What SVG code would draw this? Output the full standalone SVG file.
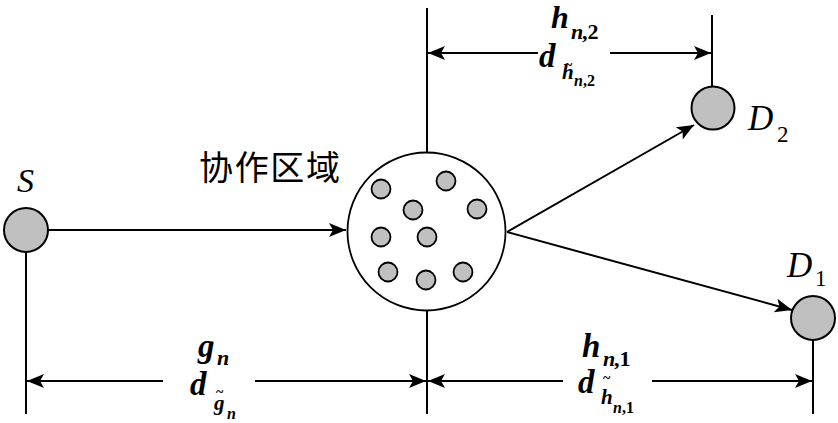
<svg xmlns="http://www.w3.org/2000/svg" width="838" height="423" viewBox="0 0 838 423">
<style>
.ln{stroke:#000;stroke-width:2;fill:none}
.node{fill:#c0c0c0;stroke:#000;stroke-width:2}
.big{fill:#fff;stroke:#000;stroke-width:1.8}
.dot{fill:#c0c0c0;stroke:#000;stroke-width:1.8}
</style>
<defs>
<marker id="ah" markerUnits="userSpaceOnUse" markerWidth="20" markerHeight="16" viewBox="-18 -8 20 16" refX="0" refY="0" orient="auto-start-reverse">
<path d="M0,0 L-17,-7 L-13,0 L-17,7 Z" fill="#000"/>
</marker>
</defs>
<rect width="838" height="423" fill="#fff"/>
<g id="connectors">
<line class="ln" x1="48" y1="230" x2="346" y2="230" marker-end="url(#ah)"/>
<line class="ln" x1="507" y1="232" x2="694" y2="125" marker-end="url(#ah)"/>
<line class="ln" x1="507" y1="232" x2="792" y2="310" marker-end="url(#ah)"/>
<line class="ln" x1="26" y1="252" x2="26" y2="414"/>
<line class="ln" x1="427" y1="8" x2="427" y2="153"/>
<line class="ln" x1="427" y1="310" x2="427" y2="414"/>
<line class="ln" x1="712" y1="15" x2="712" y2="87"/>
<line class="ln" x1="813" y1="340" x2="813" y2="414"/>
<line class="ln" x1="428" y1="53" x2="538" y2="53" marker-start="url(#ah)"/>
<line class="ln" x1="610" y1="53" x2="711" y2="53" marker-end="url(#ah)"/>
<line class="ln" x1="27" y1="381" x2="163" y2="381" marker-start="url(#ah)"/>
<line class="ln" x1="255" y1="381" x2="426" y2="381" marker-end="url(#ah)"/>
<line class="ln" x1="428" y1="381" x2="563" y2="381" marker-start="url(#ah)"/>
<line class="ln" x1="652" y1="381" x2="812" y2="381" marker-end="url(#ah)"/>
</g>
<g id="S" font-family="Liberation Serif, Times New Roman, serif">
<circle class="node" cx="26" cy="230" r="22"/>
<text x="17" y="192" font-size="34" font-style="italic">S</text>
</g>
<g id="region">
<circle class="big" cx="426.5" cy="231.5" r="79"/>
<circle class="dot" cx="381" cy="189" r="9.5"/>
<circle class="dot" cx="446" cy="181" r="9.5"/>
<circle class="dot" cx="413" cy="210" r="9.5"/>
<circle class="dot" cx="477" cy="209" r="9.5"/>
<circle class="dot" cx="381" cy="237" r="9.5"/>
<circle class="dot" cx="427" cy="237" r="9.5"/>
<circle class="dot" cx="388" cy="272" r="9.5"/>
<circle class="dot" cx="426" cy="280" r="9.5"/>
<circle class="dot" cx="463" cy="272" r="9.5"/>
<text font-family="Noto Sans CJK SC, sans-serif" font-size="34" x="199" y="180" textLength="141" lengthAdjust="spacing">协作区域</text>
</g>
<g id="D2" font-family="Liberation Serif, Times New Roman, serif">
<circle class="node" cx="713" cy="108" r="21.5"/>
<text x="748" y="130" font-size="35" font-style="italic">D</text>
<text x="777" y="142" font-size="23">2</text>
</g>
<g id="D1" font-family="Liberation Serif, Times New Roman, serif">
<circle class="node" cx="813" cy="318" r="22"/>
<text x="787" y="277" font-size="35" font-style="italic">D</text>
<text x="815" y="286" font-size="23">1</text>
</g>
<g id="labels" font-family="Liberation Serif, Times New Roman, serif" font-weight="bold">
<text font-style="italic" x="551" y="28" font-size="32">h</text>
<text font-style="italic" x="571" y="39" font-size="22">n</text>
<text x="582" y="39" font-size="22">,2</text>
<text font-style="italic" x="539" y="67" font-size="33">d</text>
<text font-style="italic" x="562" y="79" font-size="21">h</text>
<text x="565" y="70" font-size="14">~</text>
<text font-style="italic" x="574" y="86" font-size="16">n</text>
<text x="583" y="86" font-size="16">,2</text>

<text font-style="italic" x="198" y="357" font-size="33">g</text>
<text font-style="italic" x="217" y="365" font-size="22">n</text>
<text font-style="italic" x="190" y="395" font-size="33">d</text>
<text font-style="italic" x="214" y="410" font-size="21">g</text>
<text x="216" y="397" font-size="14">~</text>
<text font-style="italic" x="227" y="419" font-size="16">n</text>

<text font-style="italic" x="582" y="357" font-size="33">h</text>
<text font-style="italic" x="603" y="366" font-size="22">n</text>
<text x="614" y="366" font-size="22">,1</text>
<text font-style="italic" x="578" y="393" font-size="33">d</text>
<text font-style="italic" x="601" y="404" font-size="21">h</text>
<text x="603" y="383" font-size="14">~</text>
<text font-style="italic" x="613" y="413" font-size="16">n</text>
<text x="622" y="413" font-size="16">,1</text>
</g>
</svg>
